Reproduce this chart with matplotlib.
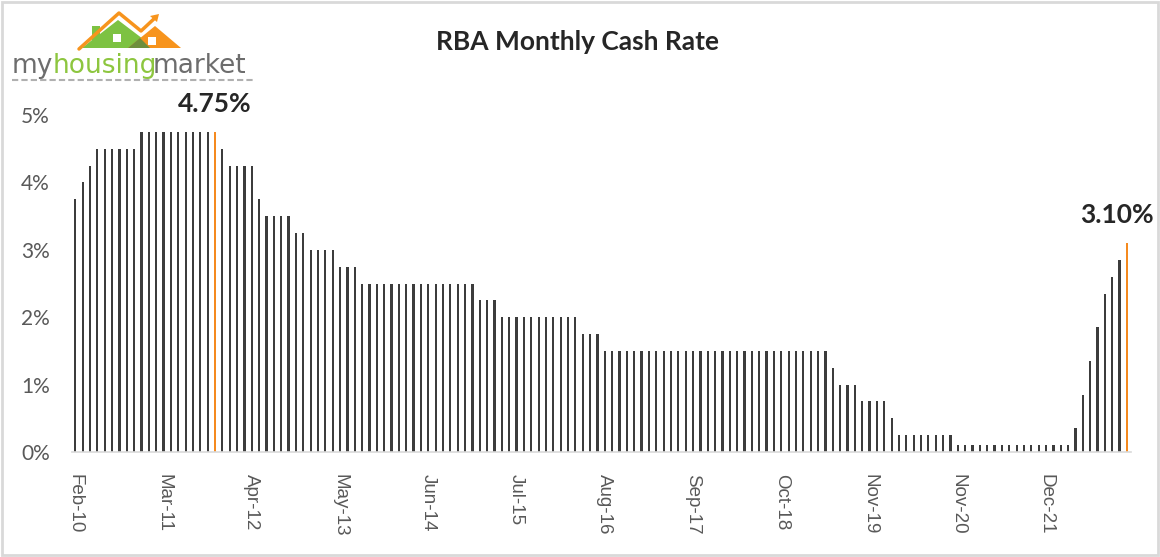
import matplotlib
matplotlib.use("Agg")
import matplotlib.pyplot as plt
from matplotlib.patches import Polygon, Rectangle
import numpy as np


# RBA cash rate at each board meeting (no January meeting, extra one in Mar-20)
rates_2010 = [3.75, 4.00, 4.25, 4.50, 4.50, 4.50, 4.50, 4.50, 4.50, 4.75, 4.75]
rates_2011 = [4.75, 4.75, 4.75, 4.75, 4.75, 4.75, 4.75, 4.75, 4.75, 4.50, 4.25]
rates_2012 = [4.25, 4.25, 4.25, 3.75, 3.50, 3.50, 3.50, 3.50, 3.25, 3.25, 3.00]
rates_2013 = [3.00, 3.00, 3.00, 2.75, 2.75, 2.75, 2.50, 2.50, 2.50, 2.50, 2.50]
rates_2014 = [2.50, 2.50, 2.50, 2.50, 2.50, 2.50, 2.50, 2.50, 2.50, 2.50, 2.50]
rates_2015 = [2.25, 2.25, 2.25, 2.00, 2.00, 2.00, 2.00, 2.00, 2.00, 2.00, 2.00]
rates_2016 = [2.00, 2.00, 2.00, 1.75, 1.75, 1.75, 1.50, 1.50, 1.50, 1.50, 1.50]
rates_2017 = [1.50, 1.50, 1.50, 1.50, 1.50, 1.50, 1.50, 1.50, 1.50, 1.50, 1.50]
rates_2018 = [1.50, 1.50, 1.50, 1.50, 1.50, 1.50, 1.50, 1.50, 1.50, 1.50, 1.50]
rates_2019 = [1.50, 1.50, 1.50, 1.50, 1.25, 1.00, 1.00, 1.00, 0.75, 0.75, 0.75]
rates_2020 = [0.75, 0.50, 0.25, 0.25, 0.25, 0.25, 0.25, 0.25, 0.25, 0.25, 0.10, 0.10]
rates_2021 = [0.10, 0.10, 0.10, 0.10, 0.10, 0.10, 0.10, 0.10, 0.10, 0.10, 0.10]
rates_2022 = [0.10, 0.10, 0.10, 0.35, 0.85, 1.35, 1.85, 2.35, 2.60, 2.85, 3.10]

cash_rate = (rates_2010 + rates_2011 + rates_2012 + rates_2013 + rates_2014 +
             rates_2015 + rates_2016 + rates_2017 + rates_2018 + rates_2019 +
             rates_2020 + rates_2021 + rates_2022)

tick_labels = ["Feb-10", "Mar-11", "Apr-12", "May-13", "Jun-14", "Jul-15",
               "Aug-16", "Sep-17", "Oct-18", "Nov-19", "Nov-20", "Dec-21"]
tick_step = 12
y_ticks = [0, 1, 2, 3, 4, 5]

bar_color = "#3c3c3c"
orange = "#F58A1F"
grey_text = "#595959"

x = np.arange(len(cash_rate))
rates = np.array(cash_rate)
peak_idx = len(rates) - 1 - np.argmax(rates[::-1])
last_idx = len(rates) - 1
colors = [bar_color] * len(rates)
colors[peak_idx] = orange
colors[last_idx] = orange

fig = plt.figure(figsize=(11.6, 5.57), dpi=100)
ax = fig.add_axes([72 / 1160, 105 / 557, 1059 / 1160, 337 / 557])

ax.bar(x, rates, width=0.3, color=colors, linewidth=0)
ax.set_xlim(-0.45, last_idx + 0.55)
ax.set_ylim(0, 5)

ax.set_yticks(y_ticks)
ax.set_yticklabels([f"{v}%" for v in y_ticks], family="Lato", fontsize=15, color=grey_text)
ax.set_xticks(x[::tick_step])
ax.set_xticklabels(tick_labels, rotation=270, family="Liberation Sans",
                   fontsize=13.5, color=grey_text, va="top", ha="center")
ax.tick_params(axis="y", length=0, pad=16)
ax.tick_params(axis="x", length=0, pad=16)

for s in ["top", "right", "left"]:
    ax.spines[s].set_visible(False)
ax.spines["bottom"].set_color("#D9D9D9")
ax.spines["bottom"].set_linewidth(1.2)

for i in [peak_idx, last_idx]:
    dx = 0 if i != last_idx else -7
    ax.annotate(f"{rates[i]:.2f}%", (x[i], rates[i]), xytext=(dx, 20),
                textcoords="offset points", ha="center", va="center",
                family="Lato", fontweight="bold", fontsize=19, color="#262626")

fig.text(578 / 1160, 1 - 42 / 557, "RBA Monthly Cash Rate", ha="center", va="center",
         family="Lato", fontweight="bold", fontsize=19, color="#262626")

# logo and chart border, drawn in pixel coordinates
ov = fig.add_axes([0, 0, 1, 1])
ov.set_xlim(0, 1160)
ov.set_ylim(557, 0)
ov.axis("off")
ov.patch.set_alpha(0)

ov.add_patch(Polygon([(82, 48), (92, 40), (92, 26), (100, 26), (100, 34), (118, 20),
                      (147, 42), (147, 48)], closed=True, color="#7DC242", lw=0))
ov.add_patch(Polygon([(128, 48), (155, 26), (181, 48)], closed=True, color="#F7941D", lw=0))
ov.add_patch(Polygon([(128, 48), (140, 38), (150, 48)], closed=True, color="#6E8F3C", lw=0))
ov.plot([79, 119, 141, 156], [49, 13, 31, 17], color="#F7941D", lw=2.5,
        solid_capstyle="round")
ov.add_patch(Polygon([(150, 16), (159, 14), (157, 22)], closed=True, color="#F7941D", lw=0))
ov.add_patch(Rectangle((113, 34), 8, 8, color="white", lw=0))
ov.add_patch(Rectangle((148, 37), 8, 8, color="white", lw=0))

logo_parts = [("my", 12, "#6d6d6d"), ("housing", 53, "#8DC63F"), ("market", 153, "#6d6d6d")]
for word, left, col in logo_parts:
    ov.text(left, 66, word, ha="left", va="center", family="DejaVu Sans",
            fontsize=19, color=col)
ov.plot([12, 255], [80, 80], color="#b0b0b0", lw=1.5, ls=(0, (3, 1.5)))

ov.add_patch(Rectangle((1.5, 1.5), 1156, 553, fill=False, edgecolor="#D9D9D9", lw=2))

fig.savefig("out.png", dpi=100, facecolor="white")
